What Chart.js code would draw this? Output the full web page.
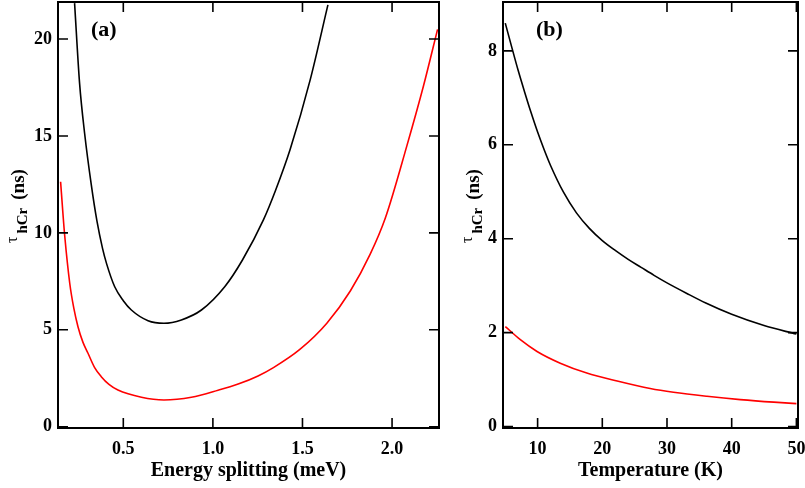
<!DOCTYPE html>
<html>
<head>
<meta charset="utf-8">
<script src="https://cdn.jsdelivr.net/npm/chart.js@4.4.1/dist/chart.umd.min.js"></script>
<style>
  body { margin: 0; background: #fff; }
  #wrap { position: relative; width: 805px; height: 488px; overflow: hidden; }
  canvas { position: absolute; top: 0; }
  #panelA { left: 0; }
  #panelB { left: 445px; }
</style>
</head>
<body>
<div id="wrap">
  <canvas id="panelA" width="445" height="488"></canvas>
  <canvas id="panelB" width="360" height="488"></canvas>
</div>
<script>
// tau_hCr curves

// ---- (a) lifetime vs energy splitting (meV) ----
const splitBlackX = [0.228, 0.256, 0.284, 0.321, 0.353, 0.384, 0.407, 0.452, 0.50, 0.545, 0.638, 0.727, 0.824, 0.936, 1.066, 1.165, 1.282, 1.35, 1.431, 1.543, 1.642];
const splitBlackY = [21.85, 17.71, 15.14, 12.5, 10.6, 9.2, 8.4, 7.22, 6.5, 6.02, 5.47, 5.34, 5.51, 6.02, 7.22, 8.6, 10.67, 12.2, 14.3, 17.89, 21.76];
const splitRedX = [0.150, 0.163, 0.173, 0.201, 0.224, 0.247, 0.275, 0.303, 0.34, 0.377, 0.42, 0.470, 0.601, 0.727, 0.880, 1.029, 1.141, 1.252, 1.338, 1.487, 1.636, 1.767, 1.878, 1.962, 2.083, 2.176, 2.254];
const splitRedY = [12.64, 11.0, 9.85, 7.40, 6.1, 5.16, 4.35, 3.79, 3.05, 2.58, 2.18, 1.89, 1.52, 1.38, 1.52, 1.88, 2.2, 2.62, 3.05, 4.0, 5.34, 7.0, 8.9, 10.75, 14.5, 17.6, 20.5];
const splitTicks = [0.5, 1.0, 1.5, 2.0];
const splitTickLabels = ["0.5", "1.0", "1.5", "2.0"];
const splitTauTicks = [0, 5, 10, 15, 20];

// ---- (b) lifetime vs temperature (K) ----
const tempBlackX = [5, 6, 7, 8, 9, 10, 11, 12, 14, 16, 18, 20, 22, 24, 26, 28, 30, 33, 36, 40, 45, 50];
const tempBlackY = [8.59, 8.08, 7.58, 7.12, 6.68, 6.27, 5.90, 5.56, 4.99, 4.55, 4.22, 3.96, 3.75, 3.56, 3.39, 3.22, 3.06, 2.84, 2.63, 2.39, 2.15, 1.97];
const tempRedX = [5.01, 7.33, 9.91, 13.5, 17.6, 22.3, 27.4, 31.0, 36.18, 41.33, 46.5, 50.0];
const tempRedY = [2.13, 1.85, 1.60, 1.35, 1.14, 0.97, 0.81, 0.73, 0.645, 0.575, 0.52, 0.49];
const tempTicks = [10, 20, 30, 40, 50];
const tempTauTicks = [0, 2, 4, 6, 8];

const SERIF = '"Liberation Serif", "Times New Roman", serif';
Chart.defaults.font.family = SERIF;
Chart.defaults.color = "#000";

function pts(xs, ys) {
  return xs.map((x, i) => ({ x, y: ys[i] }));
}

function curve(xs, ys, color) {
  return {
    data: pts(xs, ys),
    borderColor: color,
    borderWidth: 1.6,
    pointRadius: 0,
    cubicInterpolationMode: "monotone",
    fill: false,
  };
}

// frame, inward ticks, panel tag and the tau_hCr y title
const framePlugin = {
  id: "frame",
  afterDraw(chart, args, opts) {
    const { ctx, chartArea: a, scales } = chart;
    ctx.save();
    ctx.strokeStyle = "#000";
    ctx.lineWidth = 1.6;
    ctx.beginPath();
    scales.x.ticks.forEach((t) => {
      const px = scales.x.getPixelForValue(t.value);
      ctx.moveTo(px, a.bottom); ctx.lineTo(px, a.bottom - 10);
      ctx.moveTo(px, a.top); ctx.lineTo(px, a.top + 10);
    });
    scales.y.ticks.forEach((t) => {
      const py = scales.y.getPixelForValue(t.value);
      ctx.moveTo(a.left, py); ctx.lineTo(a.left + 10, py);
      ctx.moveTo(a.right, py); ctx.lineTo(a.right - 10, py);
    });
    ctx.stroke();
    ctx.lineWidth = 2;
    ctx.strokeRect(a.left, a.top, a.right - a.left, a.bottom - a.top);

    ctx.fillStyle = "#000";
    ctx.textBaseline = "alphabetic";
    ctx.textAlign = "left";
    ctx.font = "bold 22px " + SERIF;
    ctx.fillText(opts.tag, a.left + 33, a.top + 34);

    // rotated y title: tau, subscript hCr, then (ns)
    ctx.translate(opts.titleX, 243);
    ctx.rotate(-Math.PI / 2);
    ctx.font = "16px " + SERIF;
    ctx.fillText("τ", 0, -7);
    let u = ctx.measureText("τ").width + 3;
    ctx.font = "bold 15px " + SERIF;
    ctx.fillText("hCr", u, 3);
    u += ctx.measureText("hCr").width + 8;
    ctx.font = "bold 19px " + SERIF;
    ctx.fillText("(ns)", u, 0);
    ctx.restore();
  },
};

function makeChart(id, cfg) {
  return new Chart(document.getElementById(id), {
    type: "line",
    data: { datasets: cfg.datasets },
    plugins: [framePlugin],
    options: {
      responsive: false,
      animation: false,
      layout: { padding: { left: 0, top: 2, right: cfg.padRight, bottom: 0 } },
      plugins: {
        legend: { display: false },
        tooltip: { enabled: false },
        frame: { tag: cfg.tag, titleX: cfg.titleX },
      },
      scales: {
        x: {
          type: "linear",
          min: cfg.xMin,
          max: cfg.xMax,
          grid: { display: false, drawTicks: false },
          border: { display: false },
          afterBuildTicks: (s) => { s.ticks = cfg.xTicks.map((v) => ({ value: v })); },
          ticks: {
            autoSkip: false,
            maxRotation: 0,
            padding: 11,
            font: { size: 18, weight: "bold" },
            callback: (v, i) => cfg.xLabels[i],
          },
          title: {
            display: true,
            text: cfg.xTitle,
            font: { size: 20, weight: "bold" },
            padding: { top: 0, bottom: 5 },
          },
          afterFit: (s) => { s.height = 60; s.paddingLeft = 0; s.paddingRight = 0; },
        },
        y: {
          type: "linear",
          min: cfg.yMin,
          max: cfg.yMax,
          grid: { display: false, drawTicks: false },
          border: { display: false },
          afterBuildTicks: (s) => { s.ticks = cfg.yTicks.map((v) => ({ value: v })); },
          ticks: {
            padding: 6,
            font: { size: 18, weight: "bold" },
            callback: (v) => String(v),
          },
          afterFit: (s) => { s.width = 58; s.paddingTop = 0; s.paddingBottom = 0; },
        },
      },
    },
  });
}

makeChart("panelA", {
  tag: "(a)",
  titleX: 24,
  padRight: 6,
  xMin: 0.1355, xMax: 2.262,
  yMin: -0.067, yMax: 21.91,
  xTicks: splitTicks, xLabels: splitTickLabels,
  yTicks: splitTauTicks,
  xTitle: "Energy splitting (meV)",
  datasets: [
    curve(splitBlackX, splitBlackY, "#000000"),
    curve(splitRedX, splitRedY, "#ff0000"),
  ],
});

makeChart("panelB", {
  tag: "(b)",
  titleX: 34,
  padRight: 7,
  xMin: 4.65, xMax: 50.25,
  yMin: -0.03, yMax: 9.04,
  xTicks: tempTicks, xLabels: tempTicks.map(String),
  yTicks: tempTauTicks,
  xTitle: "Temperature (K)",
  datasets: [
    curve(tempBlackX, tempBlackY, "#000000"),
    curve(tempRedX, tempRedY, "#ff0000"),
  ],
});
</script>
</body>
</html>
